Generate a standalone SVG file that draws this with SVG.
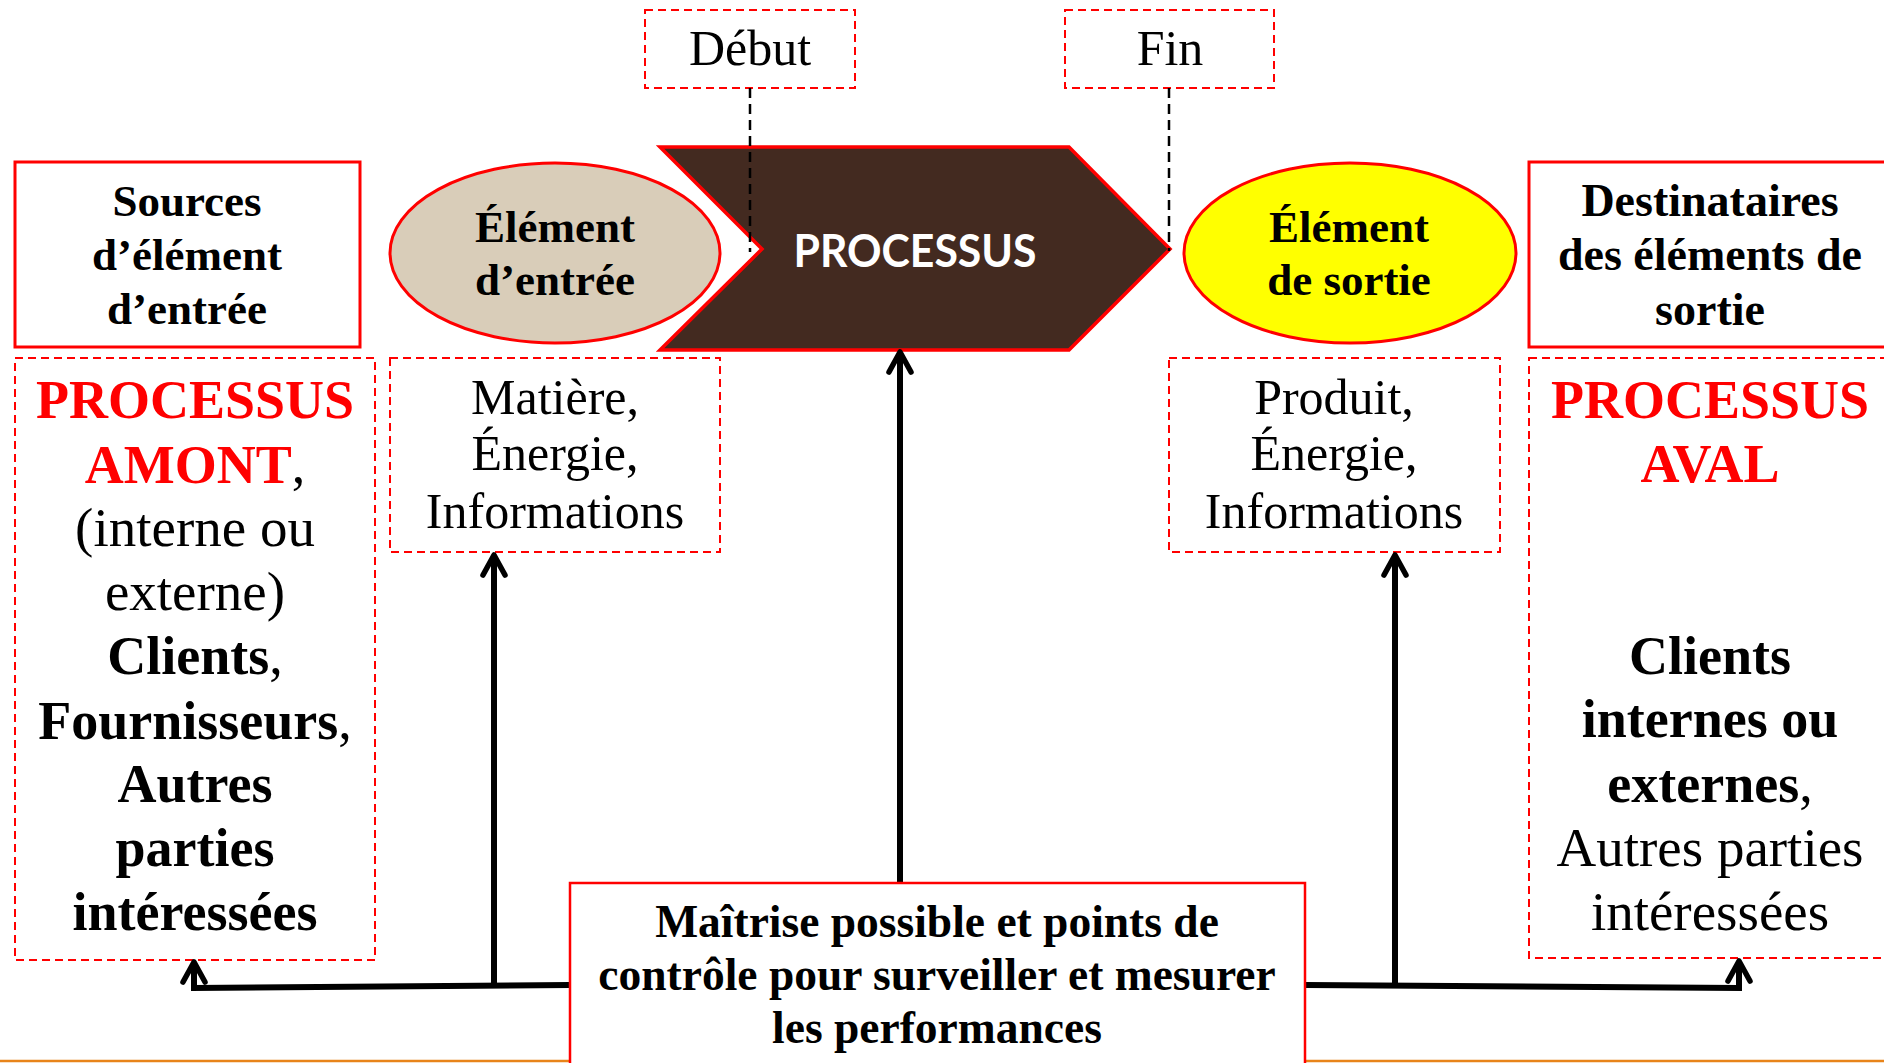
<svg xmlns="http://www.w3.org/2000/svg" width="1884" height="1063" viewBox="0 0 1884 1063">
<defs>
<style>
.t{font-family:"Liberation Serif","DejaVu Serif",serif;text-anchor:middle;fill:#000}
.b{font-weight:bold}
.r{fill:#FF0000}
.n{font-weight:normal;fill:#000}
.solid{fill:#fff;stroke:#FF0000;stroke-width:3}
.dash{fill:none;stroke:#FF0000;stroke-width:2;stroke-dasharray:8 5}
.conn{fill:none;stroke:#000;stroke-width:6;marker-end:url(#ah)}
.bdash{fill:none;stroke:#000;stroke-width:2.5;stroke-dasharray:10 6}
</style>
<marker id="ah" markerUnits="userSpaceOnUse" viewBox="-26 -16 30 32" refX="0" refY="0" markerWidth="30" markerHeight="32" orient="auto">
<path d="M-20,-11 L0,0 L-20,11" fill="none" stroke="#000" stroke-width="5.5" stroke-linecap="round" stroke-linejoin="round"/>
</marker>
</defs>
<rect width="1884" height="1063" fill="#fff"/>
<line x1="0" y1="1061" x2="1884" y2="1061" stroke="#E8841A" stroke-width="2.5"/>

<g id="debut">
<rect class="dash" x="645" y="10" width="210" height="78"/>
<text class="t" x="750" y="65" font-size="50">Début</text>
</g>
<g id="fin">
<rect class="dash" x="1065" y="10" width="209" height="78"/>
<text class="t" x="1170" y="65" font-size="50">Fin</text>
</g>

<g id="sources">
<rect class="solid" x="15" y="162" width="345" height="185"/>
<text class="t b" font-size="45"><tspan x="187" y="216">Sources</tspan><tspan x="187" y="270">d’élément</tspan><tspan x="187" y="324">d’entrée</tspan></text>
</g>
<g id="element-entree">
<ellipse cx="555" cy="253" rx="165" ry="90" fill="#D9CDB9" stroke="#FF0000" stroke-width="3"/>
<text class="t b" font-size="45"><tspan x="555" y="242">Élément</tspan><tspan x="555" y="295">d’entrée</tspan></text>
</g>
<g id="processus">
<polygon points="660,147 1069,147 1170,249 1069,350 660,350 762,249" fill="#432A20" stroke="#FF0000" stroke-width="3.5"/>
<text x="915" y="267" font-family="Lato,'Open Sans',sans-serif" font-weight="bold" font-size="45" fill="#fff" text-anchor="middle" textLength="243" lengthAdjust="spacingAndGlyphs">PROCESSUS</text>
</g>
<g id="element-sortie">
<ellipse cx="1350" cy="253" rx="166" ry="90" fill="#FFFF00" stroke="#FF0000" stroke-width="3"/>
<text class="t b" font-size="45"><tspan x="1349" y="242">Élément</tspan><tspan x="1349" y="295">de sortie</tspan></text>
</g>
<g id="destinataires">
<rect class="solid" x="1529" y="162" width="370" height="185"/>
<text class="t b" font-size="46"><tspan x="1710" y="216">Destinataires</tspan><tspan x="1710" y="270">des éléments de</tspan><tspan x="1710" y="325">sortie</tspan></text>
</g>

<g id="amont">
<rect class="dash" x="15" y="358" width="360" height="602"/>
<text class="t" font-size="54"><tspan x="195" y="418" class="b r">PROCESSUS</tspan><tspan x="195" y="483"><tspan class="b r">AMONT</tspan><tspan class="n">,</tspan></tspan><tspan x="195" y="546" font-size="55">(interne ou</tspan><tspan x="195" y="610" font-size="55">externe)</tspan><tspan x="195" y="674"><tspan class="b">Clients</tspan>,</tspan><tspan x="195" y="739"><tspan class="b">Fournisseurs</tspan>,</tspan><tspan x="195" y="802" class="b">Autres</tspan><tspan x="195" y="866" class="b">parties</tspan><tspan x="195" y="930" class="b">intéressées</tspan></text>
</g>
<g id="entrees">
<rect class="dash" x="390" y="358" width="330" height="194"/>
<text class="t" font-size="50"><tspan x="555" y="414">Matière,</tspan><tspan x="555" y="470">Énergie,</tspan><tspan x="555" y="528">Informations</tspan></text>
</g>
<g id="sorties">
<rect class="dash" x="1169" y="358" width="331" height="194"/>
<text class="t" font-size="50"><tspan x="1334" y="414">Produit,</tspan><tspan x="1334" y="470">Énergie,</tspan><tspan x="1334" y="528">Informations</tspan></text>
</g>
<g id="aval">
<rect class="dash" x="1529" y="358" width="370" height="600"/>
<text class="t" font-size="54"><tspan x="1710" y="418" class="b r">PROCESSUS</tspan><tspan x="1710" y="482" class="b r">AVAL</tspan><tspan x="1710" y="674" class="b">Clients</tspan><tspan x="1710" y="737" class="b">internes ou</tspan><tspan x="1710" y="802"><tspan class="b">externes</tspan>,</tspan><tspan x="1710" y="866" font-size="55">Autres parties</tspan><tspan x="1710" y="930" font-size="55">intéressées</tspan></text>
</g>

<g id="connectors">
<line class="bdash" x1="750" y1="88" x2="750" y2="252"/>
<line class="bdash" x1="1169" y1="88" x2="1169" y2="251"/>
<line class="conn" x1="900" y1="883" x2="900" y2="352"/>
<line class="conn" x1="494" y1="986" x2="494" y2="555"/>
<line class="conn" x1="1395" y1="986" x2="1395" y2="555"/>
<polyline class="conn" points="570,985 194,988 194,962"/>
<polyline class="conn" points="1306,985 1739,988 1739,961"/>
</g>

<g id="maitrise">
<rect x="570" y="883" width="735" height="200" fill="#fff" stroke="#FF0000" stroke-width="2.5"/>
<text class="t b" font-size="45.5"><tspan x="937" y="937">Maîtrise possible et points de</tspan><tspan x="937" y="990">contrôle pour surveiller et mesurer</tspan><tspan x="937" y="1043">les performances</tspan></text>
</g>
</svg>
